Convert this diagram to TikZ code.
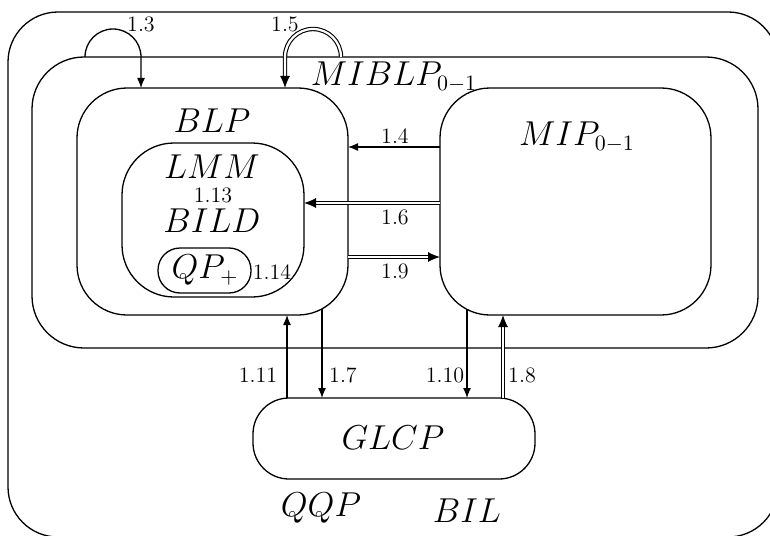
\documentclass[tikz,border=0pt]{standalone}
\usetikzlibrary{arrows.meta,calc}
\tikzset{
  box/.style={draw=black, line width=0.65pt, rounded corners=#1, inner sep=0pt, outer sep=0pt},
  box/.default=25pt,
  lbl/.style={font=\fontsize{16.2}{19}\selectfont, inner sep=1pt},
  num/.style={font=\fontsize{11}{13}\selectfont, inner sep=1pt},
  arr/.style={line width=0.65pt, -{Latex[length=5pt,width=4pt]}},
  darr/.style={line width=0.55pt, double, double distance=1.1pt, -{Latex[length=6pt,width=5pt]}}
}
\begin{document}
\begin{tikzpicture}[x=0.5pt, y=-0.5pt]
  \useasboundingbox (0,0) rectangle (770,535);
  \clip (0,0) rectangle (770,535);

  % ---- nested problem classes ----
  \node[box, minimum width=385pt, minimum height=262.5pt] (outer) at (393,274.5) {};
  \node[box=26pt, minimum width=363pt, minimum height=145.5pt] (miblp) at (395,202.5) {};
  \node[box, minimum width=135.5pt, minimum height=113.5pt] (blp) at (212.5,201.5) {};
  \node[box=26pt, minimum width=91pt, minimum height=77pt] (lmm) at (213,220) {};
  \node[box=11pt, minimum width=46.5pt, minimum height=22.5pt] (qp) at (204.5,270.5) {};
  \node[box, minimum width=135.5pt, minimum height=113.5pt] (mip) at (575.5,201.5) {};
  \node[box=18pt, minimum width=141pt, minimum height=40.5pt] (glcp) at (394,438.5) {};

  % ---- class names ----
  \node[lbl] (tmiblp) at (394,77) {$MIBLP_{0-1}$};
  \node[lbl] (tblp) at (212,121) {$BLP$};
  \node[lbl] (tlmm) at (212,167) {$LMM$};
  \node[lbl] (tbild) at (212,221) {$BILD$};
  \node[lbl] (tqp) at (205,270) {$QP_+$};
  \node[lbl] (tmip) at (577,137) {$MIP_{0-1}$};
  \node[lbl] (tglcp) at (393,438) {$GLCP$};
  \node[lbl] (tqqp) at (321,508) {$QQP$};
  \node[lbl] (tbil) at (467,511) {$BIL$};

  % ---- reductions ----
  \draw[arr] ([xshift=-63.75pt]blp.north |- miblp.north)
    arc[start angle=180, end angle=0, radius=14pt] -- ([xshift=-35.75pt]blp.north);
  \draw[darr] ([xshift=64.25pt]blp.north |- miblp.north)
    arc[start angle=0, end angle=180, radius=14pt] -- ([xshift=36.25pt]blp.north);
  \node[num] (n13) at (141,24) {1.3};
  \node[num] (n15) at (285,24) {1.5};

  \draw[arr] ([yshift=27.25pt]mip.west) -- ([yshift=27.25pt]blp.east);
  \draw[darr] ([yshift=-0.75pt]mip.west) -- ([yshift=-0.75pt]mip.west -| lmm.east);
  \draw[darr] ([yshift=-27.75pt]blp.east) -- ([yshift=-27.75pt]mip.west);
  \node[num] (n14) at (395,136) {1.4};
  \node[num] (n16) at (395,217) {1.6};
  \node[num] (n19) at (395,271) {1.9};

  \node[num] (n113) at (213,195) {1.13};
  \node[num] (n114) at (272,272) {1.14};

  \draw[arr] ([xshift=-53.5pt]glcp.north) -- ([xshift=-53.5pt]glcp.north |- blp.south);
  \draw[arr] ([xshift=-36pt, yshift=3pt]glcp.north |- blp.south) -- ([xshift=-36pt]glcp.north);
  \draw[arr] ([xshift=36.5pt, yshift=3pt]glcp.north |- mip.south) -- ([xshift=36.5pt]glcp.north);
  \draw[darr] ([xshift=54.5pt]glcp.north) -- ([xshift=54.5pt]glcp.north |- mip.south);
  \node[num] (n111) at (258,375) {1.11};
  \node[num] (n17) at (343,375) {1.7};
  \node[num] (n110) at (445,375) {1.10};
  \node[num] (n18) at (522,375) {1.8};
\end{tikzpicture}
\end{document}
